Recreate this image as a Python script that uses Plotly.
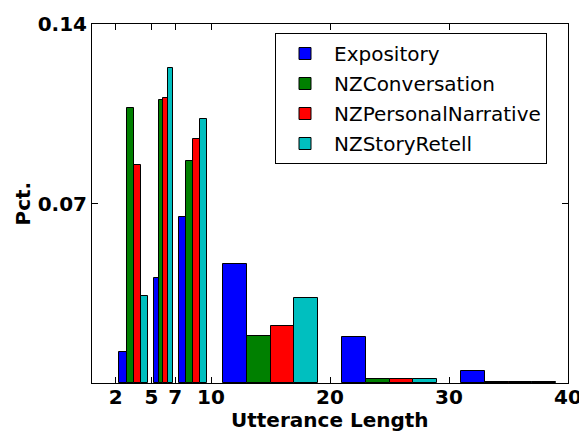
import plotly.graph_objects as go

bin_edges = [2, 5, 7, 10, 20, 30, 40]
series_names = ["Expository", "NZConversation", "NZPersonalNarrative", "NZStoryRetell"]
colors = ["#0000ff", "#008000", "#ff0000", "#00bfbf"]
expository = [0.0120, 0.0410, 0.0649, 0.0464, 0.0179, 0.0047]
nz_conversation = [0.1071, 0.1105, 0.0864, 0.0184, 0.0014, 0.0003]
nz_personal = [0.0852, 0.1111, 0.0953, 0.0221, 0.0014, 0.0003]
nz_story = [0.0340, 0.1230, 0.1028, 0.0330, 0.0017, 0.0003]
values = [expository, nz_conversation, nz_personal, nz_story]
x_ticks = [2, 5, 7, 10, 20, 30, 40]
y_ticks = [0.07, 0.14]
x_title = "Utterance Length"
y_title = "Pct."

fig = go.Figure()
n = len(series_names)
for j, (name, col, vals) in enumerate(zip(series_names, colors, values)):
    xs, ws = [], []
    for lo, hi in zip(bin_edges[:-1], bin_edges[1:]):
        w = hi - lo
        bw = 0.8 * w / n
        xs.append(lo + 0.1 * w + (j + 0.5) * bw)
        ws.append(bw)
    fig.add_trace(go.Bar(x=xs, y=vals, width=ws, name=name, legendgroup=name,
                         marker=dict(color=col, line=dict(color="black", width=1))))

bold = dict(family="DejaVu Sans", size=20, color="black", weight="bold")
# page body has an 8px default margin, so the figure is drawn at (8, 8)
OFF = 8
W, H = 587 - OFF, 432 - OFF
ml, mr, mt, mb = 92 - OFF, 19, 24 - OFF, 49
pw, ph = W - ml - mr, H - mt - mb
fig.update_layout(
    width=W, height=H,
    margin=dict(l=ml, r=mr, t=mt, b=mb, autoexpand=False),
    plot_bgcolor="white", paper_bgcolor="white",
    barmode="overlay", bargap=0,
    showlegend=True,
    legend=dict(x=(275 - OFF - ml) / pw, y=(H - mb - (33 - OFF)) / ph,
                xanchor="left", yanchor="top", tracegroupgap=1, itemwidth=48,
                bgcolor="white", bordercolor="black", borderwidth=1,
                font=dict(family="DejaVu Sans", size=20, color="black")),
    xaxis=dict(range=[0, 40], tickvals=x_ticks, ticktext=[str(t) for t in x_ticks],
               ticks="inside", ticklen=6, tickcolor="black", mirror="ticks",
               showline=True, linecolor="black", linewidth=1, showgrid=False, zeroline=False,
               tickfont=bold, automargin=False, ticklabelstandoff=-4),
    yaxis=dict(range=[0, 0.14], tickvals=y_ticks, ticktext=["0.07", "0.14"],
               ticks="inside", ticklen=6, tickcolor="black", mirror="ticks",
               showline=True, linecolor="black", linewidth=1, showgrid=False, zeroline=False,
               tickfont=bold, automargin=False),
    annotations=[
        dict(text=x_title, xref="paper", yref="paper", x=0.5,
             y=-((420 - OFF) - (H - mb)) / ph,
             xanchor="center", yanchor="middle", showarrow=False, font=bold),
        dict(text=y_title, xref="paper", yref="paper", x=-(ml - (22 - OFF)) / pw, y=0.5,
             xanchor="center", yanchor="middle", textangle=-90, showarrow=False, font=bold),
    ],
)
fig.write_html("out.html")
